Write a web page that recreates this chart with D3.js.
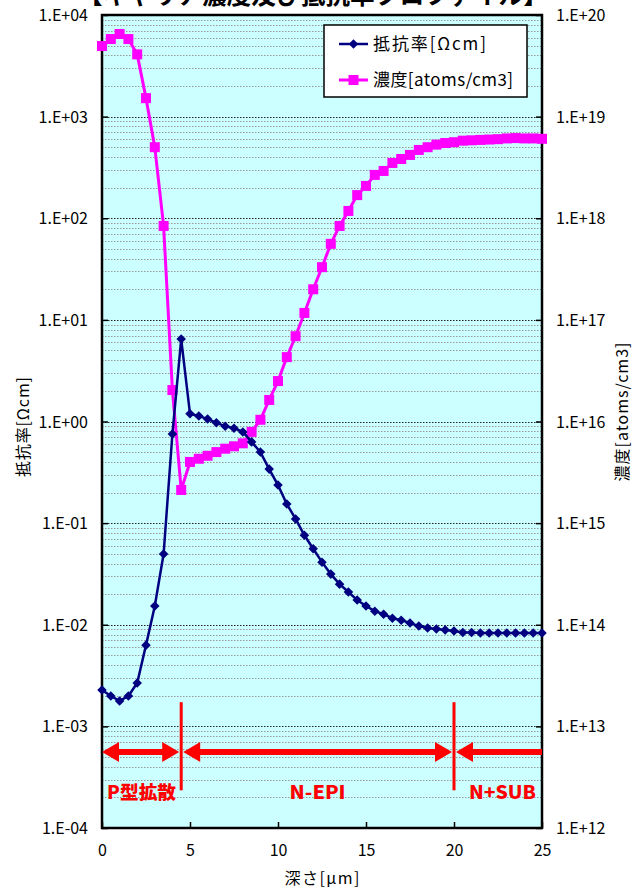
<!DOCTYPE html>
<html>
<head>
<meta charset="utf-8">
<script src="https://cdn.jsdelivr.net/npm/d3@7"></script>
<style>
body { margin: 0; background: #fff; }
text { font-family: "Noto Sans CJK JP", "Noto Sans", sans-serif; }
</style>
</head>
<body>
<div id="chart"></div>
<script>
// depth (um) and the two measured profiles
var depth = [0, 0.5, 1, 1.5, 2, 2.5, 3, 3.5, 4, 4.5, 5, 5.5, 6, 6.5, 7, 7.5, 8, 8.5, 9, 9.5,
  10, 10.5, 11, 11.5, 12, 12.5, 13, 13.5, 14, 14.5, 15, 15.5, 16, 16.5, 17, 17.5, 18, 18.5, 19, 19.5,
  20, 20.5, 21, 21.5, 22, 22.5, 23, 23.5, 24, 24.5, 25];

var resist = [2.28e-3, 1.99e-3, 1.78e-3, 1.99e-3, 2.67e-3, 6.3e-3, 1.53e-2, 4.97e-2, 0.753, 6.47,
  1.19, 1.13, 1.06, 0.97, 0.90, 0.86, 0.79, 0.63, 0.50, 0.34,
  0.237, 0.154, 0.110, 0.076, 0.056, 0.0413, 0.0315, 0.0251, 0.0210, 0.0175,
  0.0153, 0.0136, 0.0127, 0.0116, 0.0111, 0.0104, 0.0097, 0.0093, 0.0091, 0.0089,
  0.0087, 0.0084, 0.0084, 0.0083, 0.0083, 0.0083, 0.0083, 0.0083, 0.0083, 0.0083, 0.0083];

var conc = [4.95e19, 5.8e19, 6.5e19, 5.8e19, 4.1e19, 1.52e19, 5.0e18, 8.4e17, 2.04e16, 2.12e15,
  4.0e15, 4.3e15, 4.6e15, 5.0e15, 5.4e15, 5.7e15, 6.1e15, 7.9e15, 1.04e16, 1.63e16,
  2.5e16, 4.3e16, 6.9e16, 1.17e17, 2.0e17, 3.3e17, 5.6e17, 8.4e17, 1.18e18, 1.69e18,
  2.08e18, 2.67e18, 2.92e18, 3.5e18, 3.83e18, 4.2e18, 4.7e18, 5.0e18, 5.3e18, 5.5e18,
  5.6e18, 5.8e18, 5.85e18, 5.9e18, 5.95e18, 6.0e18, 6.1e18, 6.15e18, 6.1e18, 6.1e18, 6.05e18];

var xTicks = [0, 5, 10, 15, 20, 25];
var leftTicks = [1e-4, 1e-3, 1e-2, 1e-1, 1, 10, 100, 1000, 1e4];
var leftLabels = ["1.E-04", "1.E-03", "1.E-02", "1.E-01", "1.E+00", "1.E+01", "1.E+02", "1.E+03", "1.E+04"];
var rightTicks = [1e12, 1e13, 1e14, 1e15, 1e16, 1e17, 1e18, 1e19, 1e20];
var rightLabels = ["1.E+12", "1.E+13", "1.E+14", "1.E+15", "1.E+16", "1.E+17", "1.E+18", "1.E+19", "1.E+20"];

// regions (boundaries in um) and their labels
var bounds = [4.5, 20];
var regionNames = ["P型拡散", "N-EPI", "N+SUB"];
var regionCenters = [2.25, 12.25, 22.75];

var W = 633, H = 888;
var pL = 102, pR = 542, pT = 15, pB = 828;

var svg = d3.select("#chart").append("svg").attr("width", W).attr("height", H);

var x = d3.scaleLinear().domain([0, 25]).range([pL, pR]);
var yL = d3.scaleLog().domain([1e-4, 1e4]).range([pB, pT]);
var yR = d3.scaleLog().domain([1e12, 1e20]).range([pB, pT]);

// title (cut off by the top edge)
svg.append("text").attr("x", 313).attr("y", 4).attr("text-anchor", "middle")
  .attr("textLength", 470).attr("lengthAdjust", "spacingAndGlyphs")
  .style("font-size", "25px").style("font-weight", "bold")
  .text("【キャリア濃度及び抵抗率プロファイル】");

svg.append("rect").attr("x", pL).attr("y", pT).attr("width", pR - pL).attr("height", pB - pT)
  .attr("fill", "#ccffff");

// grid
var minor = [];
for (var e = -4; e < 4; e++) {
  for (var m = 2; m <= 9; m++) minor.push(m * Math.pow(10, e));
}
svg.append("g").selectAll("line").data(minor).join("line")
  .attr("x1", pL).attr("x2", pR)
  .attr("y1", function (d) { return Math.round(yL(d)) + 0.5; })
  .attr("y2", function (d) { return Math.round(yL(d)) + 0.5; })
  .attr("stroke", "#999").attr("stroke-dasharray", "1.5,1.5");
svg.append("g").selectAll("line").data(leftTicks.slice(1, -1)).join("line")
  .attr("x1", pL).attr("x2", pR)
  .attr("y1", function (d) { return Math.round(yL(d)) + 0.5; })
  .attr("y2", function (d) { return Math.round(yL(d)) + 0.5; })
  .attr("stroke", "#222").attr("stroke-dasharray", "1.5,1.5");

// axes
var axL = svg.append("g").attr("transform", "translate(" + pL + ",0)")
  .call(d3.axisLeft(yL).tickValues(leftTicks).tickSizeInner(-6).tickSizeOuter(0)
    .tickFormat(function (d, i) { return leftLabels[i]; }));
var axR = svg.append("g").attr("transform", "translate(" + pR + ",0)")
  .call(d3.axisRight(yR).tickValues(rightTicks).tickSizeInner(-6).tickSizeOuter(0)
    .tickFormat(function (d, i) { return rightLabels[i]; }));
var axB = svg.append("g").attr("transform", "translate(0," + pB + ")")
  .call(d3.axisBottom(x).tickValues(xTicks).tickSizeInner(-6).tickSizeOuter(0));
[axL, axR, axB].forEach(function (a) {
  a.select(".domain").remove();
  a.selectAll(".tick line").attr("stroke", "#000").attr("stroke-width", 1.5);
  a.selectAll("text").style("font-size", "16px").attr("fill", "#000")
    .style("font-family", "'Noto Sans CJK JP', sans-serif");
});
axL.selectAll("text").attr("x", -14).attr("dy", "0.35em");
axR.selectAll("text").attr("x", 14).attr("dy", "0.35em");
axB.selectAll("text").attr("y", 17);

svg.append("rect").attr("x", pL).attr("y", pT).attr("width", pR - pL).attr("height", pB - pT)
  .attr("fill", "none").attr("stroke", "#000").attr("stroke-width", 2.5);

// axis titles
svg.append("text").attr("x", 322).attr("y", 884).attr("text-anchor", "middle")
  .attr("textLength", 75).style("font-size", "16px").text("深さ[μm]");
svg.append("text").attr("transform", "translate(29,427) rotate(-90)").attr("text-anchor", "middle")
  .attr("textLength", 100).style("font-size", "16px").text("抵抗率[Ωcm]");
svg.append("text").attr("transform", "translate(628,412) rotate(-90)").attr("text-anchor", "middle")
  .attr("textLength", 139).style("font-size", "16px").text("濃度[atoms/cm3]");

// region annotations
var red = "#ff0000";
var arrowY = yL(5.6e-4);
var ann = svg.append("g");
ann.selectAll("line.b").data(bounds).join("line").attr("class", "b")
  .attr("x1", function (d) { return x(d); }).attr("x2", function (d) { return x(d); })
  .attr("y1", yL(1.73e-3)).attr("y2", yL(2.35e-4))
  .attr("stroke", red).attr("stroke-width", 3);

var segs = [[0, 4.5, true, true], [4.5, 20, true, true], [20, 25, true, false]];
var hl = 17, hw = 10;
segs.forEach(function (s) {
  var x0 = x(s[0]) + (s[0] > 0 ? 2 : 0), x1 = x(s[1]) - (s[1] < 25 ? 2 : 0);
  ann.append("line").attr("x1", x0 + (s[2] ? hl - 2 : 0)).attr("x2", x1 - (s[3] ? hl - 2 : 0))
    .attr("y1", arrowY).attr("y2", arrowY).attr("stroke", red).attr("stroke-width", 6);
  if (s[2]) ann.append("path")
    .attr("d", "M" + x0 + "," + arrowY + "L" + (x0 + hl) + "," + (arrowY - hw) + "L" + (x0 + hl) + "," + (arrowY + hw) + "Z")
    .attr("fill", red);
  if (s[3]) ann.append("path")
    .attr("d", "M" + x1 + "," + arrowY + "L" + (x1 - hl) + "," + (arrowY - hw) + "L" + (x1 - hl) + "," + (arrowY + hw) + "Z")
    .attr("fill", red);
});
var regionWidths = [69, 56, 67];
ann.selectAll("text").data(regionNames).join("text")
  .attr("x", function (d, i) { return x(regionCenters[i]); })
  .attr("y", yL(1.95e-4))
  .attr("text-anchor", "middle").attr("fill", red)
  .attr("textLength", function (d, i) { return regionWidths[i]; })
  .attr("lengthAdjust", "spacingAndGlyphs")
  .style("font-size", "18px").style("font-weight", "900")
  .text(function (d) { return d; });

// series
var concLine = d3.line().x(function (d, i) { return x(depth[i]); }).y(function (d) { return yR(d); });
var resLine = d3.line().x(function (d, i) { return x(depth[i]); }).y(function (d) { return yL(d); });

svg.append("path").datum(conc).attr("d", concLine).attr("fill", "none")
  .attr("stroke", "#ff00ff").attr("stroke-width", 3);
svg.append("g").selectAll("rect").data(conc).join("rect")
  .attr("x", function (d, i) { return x(depth[i]) - 5; })
  .attr("y", function (d) { return yR(d) - 5; })
  .attr("width", 10).attr("height", 10).attr("fill", "#ff00ff");

svg.append("path").datum(resist).attr("d", resLine).attr("fill", "none")
  .attr("stroke", "#000080").attr("stroke-width", 2.5);
var diamond = d3.symbol().type(d3.symbolDiamond2).size(58);
svg.append("g").selectAll("path").data(resist).join("path")
  .attr("d", diamond)
  .attr("transform", function (d, i) { return "translate(" + x(depth[i]) + "," + yL(d) + ")"; })
  .attr("fill", "#000080");

// legend
var lg = svg.append("g");
lg.append("rect").attr("x", 324).attr("y", 25).attr("width", 203).attr("height", 72)
  .attr("fill", "#fff").attr("stroke", "#000").attr("stroke-width", 1.5);
var legItems = [["抵抗率[Ωcm]", "#000080", 44, "d", 113], ["濃度[atoms/cm3]", "#ff00ff", 80, "s", 140]];
legItems.forEach(function (it) {
  lg.append("line").attr("x1", 339).attr("x2", 368).attr("y1", it[2]).attr("y2", it[2])
    .attr("stroke", it[1]).attr("stroke-width", it[3] == "d" ? 2.5 : 3);
  if (it[3] == "d") {
    lg.append("path").attr("d", diamond).attr("transform", "translate(353.5," + it[2] + ")").attr("fill", it[1]);
  } else {
    lg.append("rect").attr("x", 348.5).attr("y", it[2] - 5).attr("width", 10).attr("height", 10).attr("fill", it[1]);
  }
  lg.append("text").attr("x", 373).attr("y", it[2]).attr("dy", "0.36em")
    .attr("textLength", it[4]).style("font-size", "17px").text(it[0]);
});
</script>
</body>
</html>
